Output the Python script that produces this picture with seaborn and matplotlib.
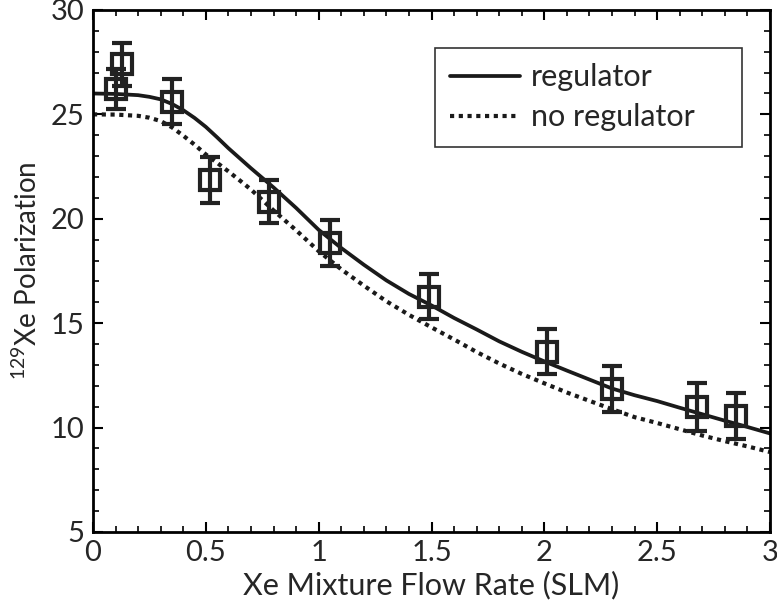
import numpy as np
import pandas as pd
import matplotlib
matplotlib.use("Agg")
import matplotlib.pyplot as plt
import seaborn as sns
from matplotlib.ticker import MultipleLocator

# ---- data ----
flow_meas = [0.10, 0.13, 0.35, 0.52, 0.78, 1.05, 1.49, 2.01, 2.30, 2.675, 2.85]
pol_meas = [26.2, 27.4, 25.6, 21.86, 20.82, 18.83, 16.27, 13.64, 11.85, 11.0, 10.57]
pol_err = [0.95, 1.03, 1.08, 1.1, 1.04, 1.1, 1.07, 1.08, 1.1, 1.15, 1.1]

curve_x = [0.0, 0.1, 0.2, 0.25, 0.3, 0.35, 0.4, 0.45, 0.5, 0.55, 0.6, 0.65, 0.7, 0.8, 0.9, 1.0,
           1.1, 1.2, 1.3, 1.4, 1.5, 1.6, 1.7, 1.8, 1.9, 2.0,
           2.1, 2.2, 2.3, 2.4, 2.5, 2.6, 2.7, 2.8, 2.9, 3.0]
regulator = [26.0, 25.98, 25.92, 25.84, 25.72, 25.5, 25.2, 24.83, 24.4, 23.9, 23.38, 22.9, 22.42, 21.5, 20.52, 19.47,
             18.6, 17.8, 17.05, 16.4, 15.85, 15.25, 14.7, 14.13, 13.63, 13.17,
             12.73, 12.3, 11.87, 11.55, 11.27, 10.95, 10.64, 10.33, 10.03, 9.72]
no_regulator = [25.0, 24.99, 24.93, 24.84, 24.68, 24.38, 23.98, 23.55, 23.08, 22.68, 22.27, 21.84, 21.4, 20.4, 19.45, 18.45,
                17.58, 16.8, 16.05, 15.4, 14.8, 14.22, 13.62, 13.07, 12.57, 12.12,
                11.68, 11.28, 10.88, 10.5, 10.22, 9.92, 9.62, 9.35, 9.1, 8.83]

xlabel = "Xe Mixture Flow Rate (SLM)"
ylabel = r"$^{129}$Xe Polarization"

sns.set_style("ticks")
plt.rcParams['font.family'] = ['Lato', 'DejaVu Sans']
plt.rcParams['mathtext.fontset'] = 'custom'
plt.rcParams['mathtext.rm'] = 'Lato'

fig = plt.figure(figsize=(7.77, 6.08), dpi=100)
ax = fig.add_axes([0.1197, 0.125, 0.8713, 0.8586])

df = pd.DataFrame({"x": curve_x, "regulator": regulator, "no regulator": no_regulator})

sns.lineplot(data=df, x="x", y="regulator", ax=ax, color="#1a1a1a", lw=2.7,
             label="regulator")
sns.lineplot(data=df, x="x", y="no regulator", ax=ax, color="#1a1a1a", lw=3.0,
             linestyle=(0, (1, 1.1)), label="no regulator")
for l in ax.lines[-1:]:
    l.set_dash_capstyle("butt")

ax.errorbar(flow_meas, pol_meas, yerr=pol_err, fmt="s", mfc="none", mec="#222222",
            ecolor="#222222", ms=15, mew=3, elinewidth=3, capsize=7, capthick=3,
            zorder=5)

ax.set_xlim(0, 3)
ax.set_ylim(5, 30)
ax.xaxis.set_minor_locator(MultipleLocator(0.1))
ax.yaxis.set_major_locator(MultipleLocator(5))
ax.yaxis.set_minor_locator(MultipleLocator(1))
ax.set_xticks([0, 0.5, 1, 1.5, 2, 2.5, 3])
ax.set_xticklabels(["0", "0.5", "1", "1.5", "2", "2.5", "3"])

ax.tick_params(which="both", direction="in", top=True, right=True, color="black")
ax.tick_params(which="major", length=7, width=1.5, labelsize=21, pad=6)
ax.tick_params(which="minor", length=4, width=1.2)
for s in ax.spines.values():
    s.set_linewidth(2)
    s.set_color("black")

ax.set_xlabel(xlabel, fontsize=22, labelpad=3)
ax.set_ylabel(ylabel, fontsize=20, labelpad=6)

leg = ax.legend(loc="upper right", bbox_to_anchor=(0.505, 0.5, 0.4537, 0.427),
                mode="expand", fontsize=22,
                frameon=True, fancybox=False, edgecolor="black", handlelength=2.3,
                borderpad=0.5, labelspacing=0.39, handletextpad=0.33,
                borderaxespad=0)
leg.get_frame().set_linewidth(1.2)

fig.savefig("out.png", dpi=100)
